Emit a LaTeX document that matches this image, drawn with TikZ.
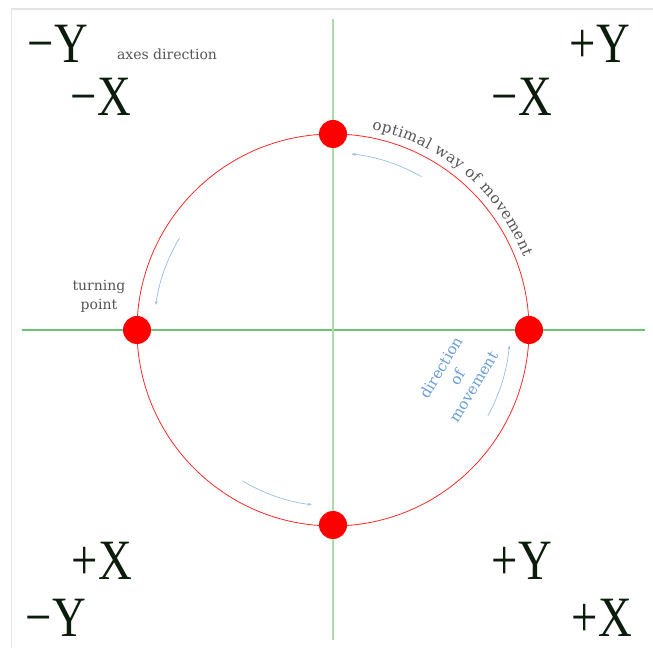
\documentclass[tikz,border=0pt]{standalone}
\usepackage{fontspec}
\setmainfont{Liberation Serif}
\newfontfamily\bigfont[FakeStretch=0.82]{Liberation Serif}
\newfontfamily\smallfont{DejaVu Serif}
\usetikzlibrary{decorations.text,arrows.meta}
\definecolor{axisgreen}{RGB}{110,196,110}
\definecolor{axisgreenlight}{RGB}{170,220,170}
\definecolor{ringred}{RGB}{255,40,40}
\definecolor{dotred}{RGB}{255,0,0}
\definecolor{labelgray}{RGB}{85,85,85}
\definecolor{moveblue}{RGB}{105,158,215}
\definecolor{arrowblue}{RGB}{150,190,230}
\definecolor{bigink}{RGB}{12,28,12}
\definecolor{framegray}{RGB}{228,228,228}
\begin{document}
\begin{tikzpicture}[x=1pt,y=1pt,
 big/.style={font=\bigfont\fontsize{57}{57}\selectfont, text=bigink, inner sep=0, anchor=base},
 small/.style={font=\smallfont\fontsize{14}{19}\selectfont, text=labelgray, inner sep=0},
 reddot/.style={circle, fill=dotred, minimum size=28, inner sep=0},
 movearrow/.style={arrowblue, line width=0.7, -{Stealth[length=4,width=3]}},
]
\useasboundingbox (0,0) rectangle (653,648);
\draw[framegray, line width=1.2] (11.5,0) -- (11.5,639) -- (653,639);
\coordinate (O) at (333,318);
\coordinate (hl) at (22,318);
\coordinate (hr) at (645,318);
\coordinate (vt) at (333,629);
\coordinate (vb) at (333,8);
\draw[axisgreen, line width=2.2] (hl) -- (hr);
\draw[axisgreenlight, line width=2.6] (vt) -- (vb);
\draw[ringred, line width=0.8] (O) circle[radius=196];
\node[reddot] (top) at (333,514) {};
\node[reddot] (right) at (529,318) {};
\node[reddot] (left) at (137,318) {};
\node[reddot] (bottom) at (333,123) {};
% movement arrows
\draw[movearrow] ([shift={(60:177)}]O) arc[start angle=60, end angle=84, radius=177];
\draw[movearrow] ([shift={(149:179)}]O) arc[start angle=149, end angle=172, radius=179];
\draw[movearrow] ([shift={(239:176)}]O) arc[start angle=239, end angle=263, radius=176];
\draw[movearrow] ([shift={(331:177)}]O) arc[start angle=331, end angle=355, radius=177];
% big labels
\node[big] (tlY) at (58,585) {−Y};
\node[big] (tlX) at (101,532) {−X};
\node[big] (trY) at (600,585) {+Y};
\node[big] (trX) at (522,532) {−X};
\node[big] (blX) at (102,69) {+X};
\node[big] (blY) at (56,12) {−Y};
\node[big] (brY) at (522,69) {+Y};
\node[big] (brX) at (602,12) {+X};
% small labels
\node[small, anchor=base] (axes) at (167,588) {axes direction};
\node[small, align=center] (turn) at (99,352) {turning\\point};
\node[small, font=\smallfont\fontsize{15}{19}\selectfont, text=moveblue, align=center, rotate=59] (dirmove) at (457,271) {direction\\of\\movement};
\path[decorate, decoration={text along path, text align=fit to path,
  text={|\smallfont\fontsize{15}{15}\selectfont\color{labelgray}|optimal way of movement}}]
  ([shift={(79:204)}]O) arc[start angle=79, end angle=21, radius=204];
\end{tikzpicture}
\end{document}
